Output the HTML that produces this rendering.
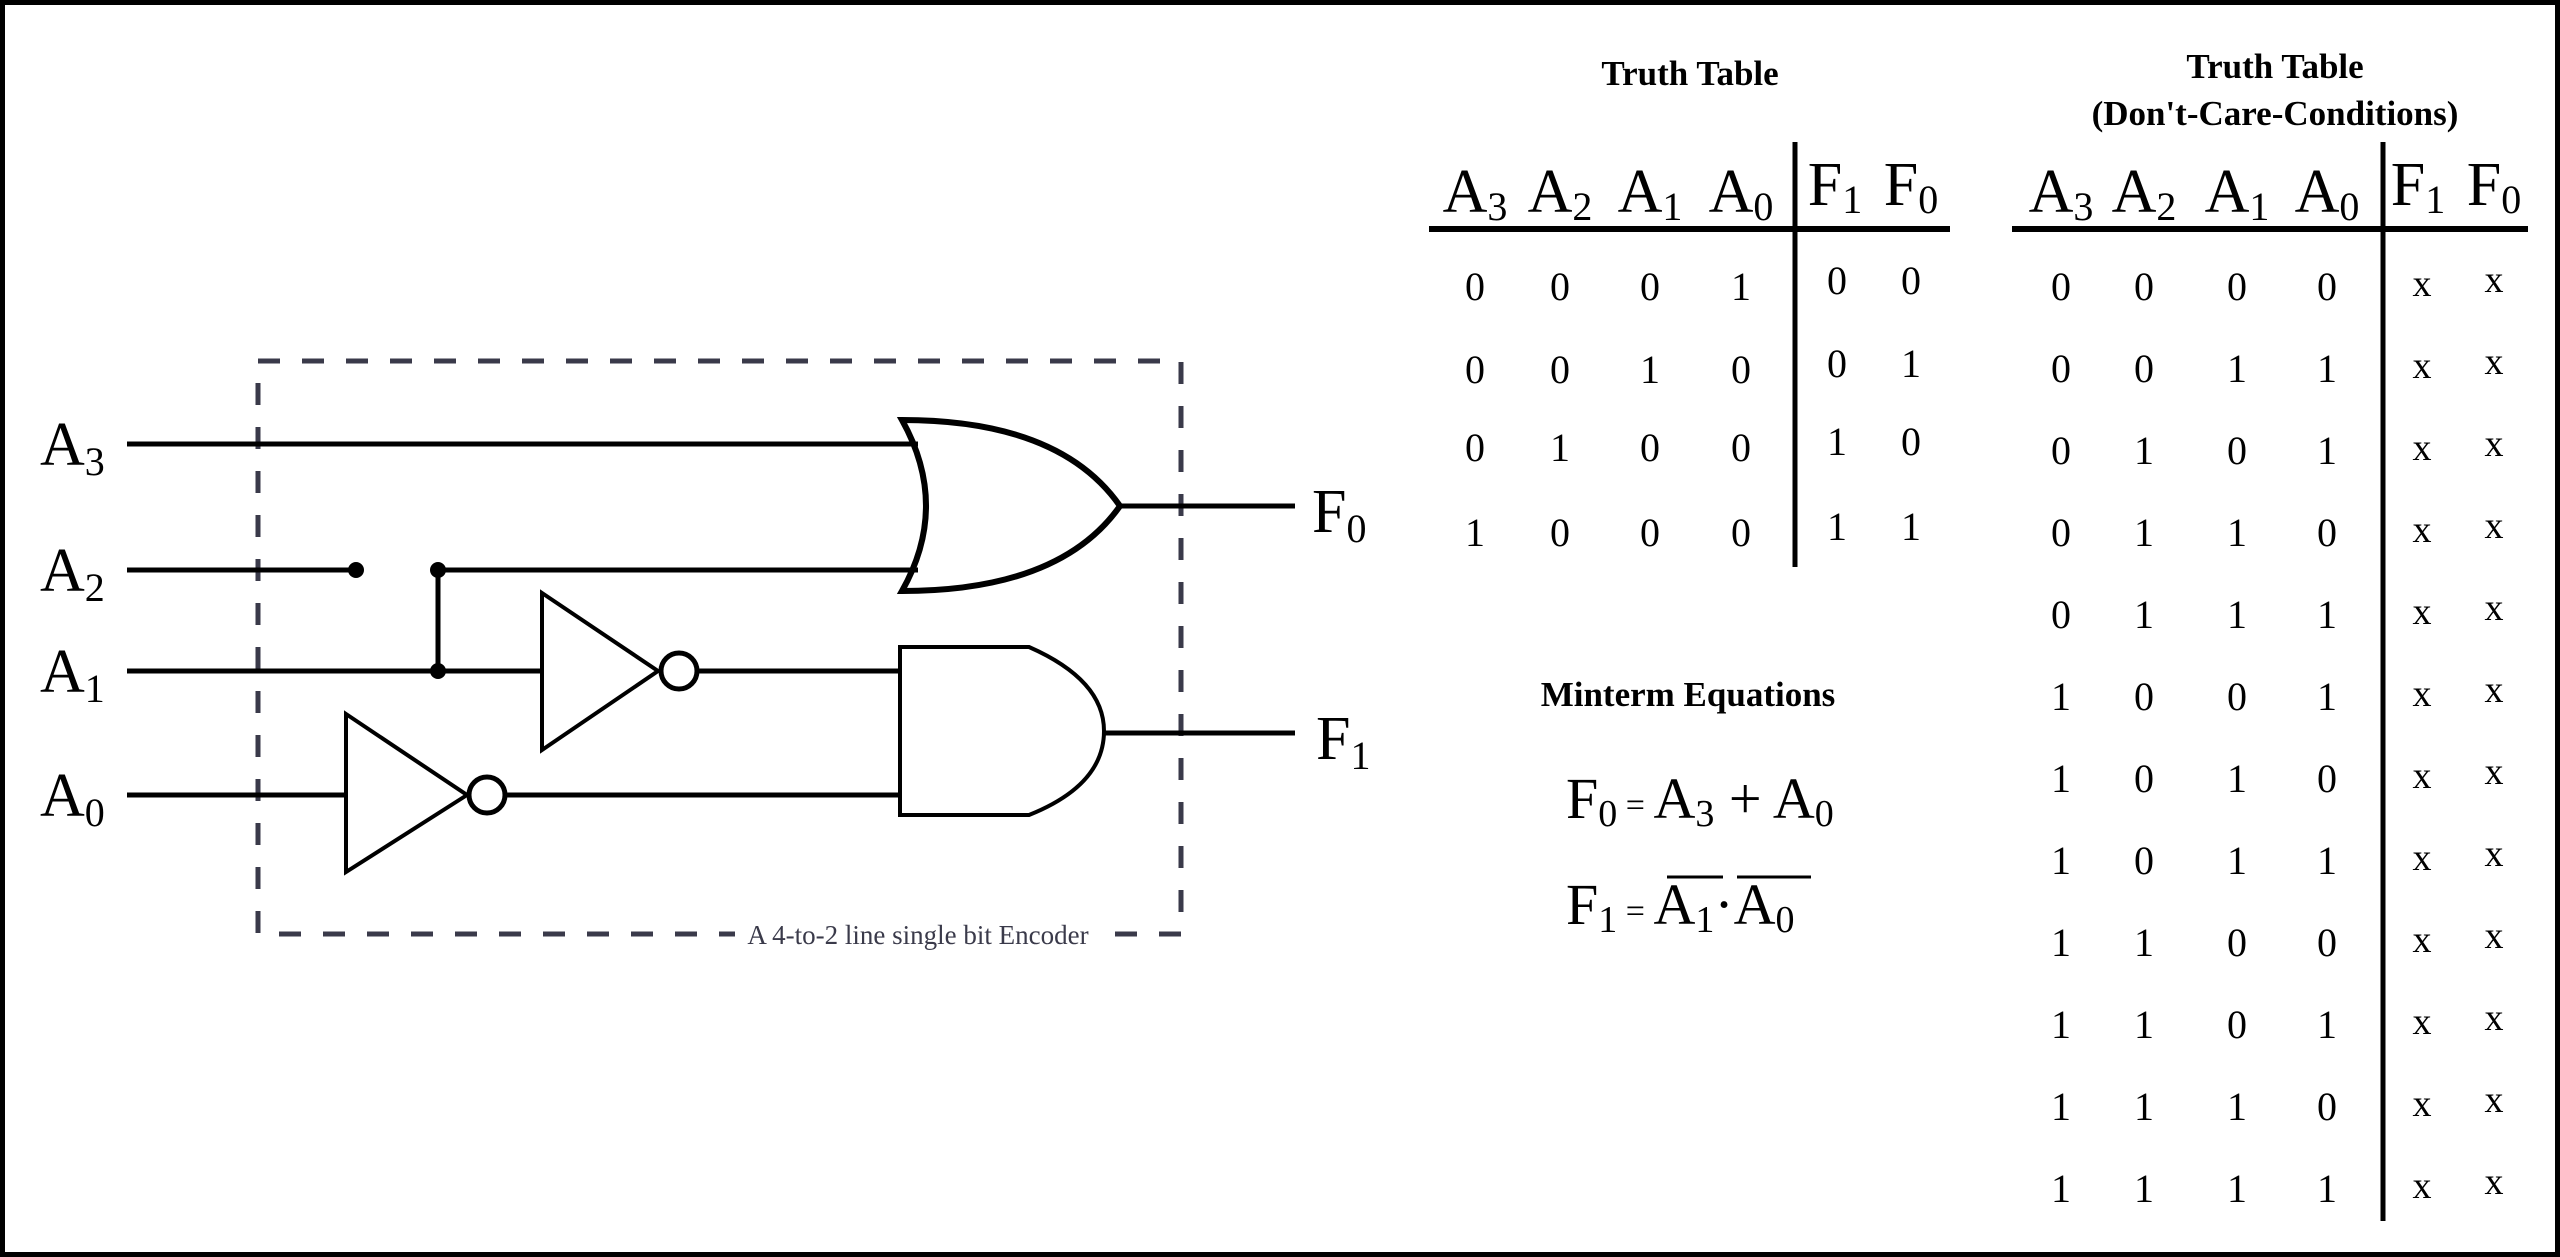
<!DOCTYPE html>
<html><head><meta charset="utf-8"><style>
html,body{margin:0;padding:0;background:#fff;}
svg{display:block;}
text{font-family:"Liberation Serif",serif;fill:#000;}
</style></head><body>
<svg width="2560" height="1257" viewBox="0 0 2560 1257" xmlns="http://www.w3.org/2000/svg">
<rect x="2.5" y="2.5" width="2555" height="1252" fill="#fff" stroke="#000" stroke-width="5"/>
<!-- dashed box -->
<rect x="258" y="361" width="923" height="573" fill="none" stroke="#3a3a4a" stroke-width="5" stroke-dasharray="22,22"/>
<rect x="735" y="918" width="365" height="32" fill="#fff"/>
<text x="918" y="944" font-size="27" text-anchor="middle" style="fill:#3a3a4a">A 4-to-2 line single bit Encoder</text>

<g stroke="#000" stroke-width="5" fill="none">
<line x1="127" y1="444" x2="918" y2="444"/>
<line x1="127" y1="570" x2="356" y2="570"/>
<line x1="438" y1="570" x2="918" y2="570"/>
<line x1="438" y1="570" x2="438" y2="671"/>
<line x1="127" y1="671" x2="542" y2="671"/>
<line x1="127" y1="795" x2="346" y2="795"/>
<line x1="697" y1="671" x2="900" y2="671"/>
<line x1="505" y1="795" x2="900" y2="795"/>
<line x1="1120" y1="506" x2="1295" y2="506"/>
<line x1="1104" y1="733" x2="1295" y2="733"/>
<path d="M902 420 Q1060 420 1120 506 Q1060 591 902 591 Q950 506 902 420 Z" stroke-width="6"/>
<path d="M542 593 L658 671 L542 750 Z" stroke-width="4"/>
<circle cx="679" cy="671" r="18" stroke-width="5"/>
<path d="M346 714 L467 795 L346 872 Z" stroke-width="4"/>
<circle cx="487" cy="795" r="18" stroke-width="5"/>
<path d="M900 647 L1029 647 Q1104 680 1104 731 Q1104 785 1029 815 L900 815 Z" stroke-width="4"/>
</g>
<circle cx="356" cy="570" r="8"/>
<circle cx="438" cy="570" r="8"/>
<circle cx="438" cy="671" r="8"/>

<g font-size="62">
<text x="40" y="465">A<tspan font-size="40" dy="10">3</tspan></text>
<text x="40" y="591">A<tspan font-size="40" dy="10">2</tspan></text>
<text x="40" y="692">A<tspan font-size="40" dy="10">1</tspan></text>
<text x="40" y="816">A<tspan font-size="40" dy="10">0</tspan></text>
<text x="1312" y="532">F<tspan font-size="40" dy="10">0</tspan></text>
<text x="1316" y="759">F<tspan font-size="40" dy="10">1</tspan></text>
</g>

<text x="1690" y="85" font-size="35" font-weight="bold" text-anchor="middle">Truth Table</text>
<g font-size="62" text-anchor="middle">
<text x="1475" y="212">A<tspan font-size="40" dy="8">3</tspan></text>
<text x="1560" y="212">A<tspan font-size="40" dy="8">2</tspan></text>
<text x="1650" y="212">A<tspan font-size="40" dy="8">1</tspan></text>
<text x="1741" y="212">A<tspan font-size="40" dy="8">0</tspan></text>
<text x="1835" y="205">F<tspan font-size="40" dy="8">1</tspan></text>
<text x="1911" y="205">F<tspan font-size="40" dy="8">0</tspan></text>
</g>
<line x1="1429" y1="229" x2="1950" y2="229" stroke="#000" stroke-width="6"/>
<line x1="1795" y1="142" x2="1795" y2="567" stroke="#000" stroke-width="5"/>
<g font-size="40" text-anchor="middle">
<text x="1475" y="300">0</text><text x="1560" y="300">0</text><text x="1650" y="300">0</text><text x="1741" y="300">1</text><text x="1837" y="294">0</text><text x="1911" y="294">0</text>
<text x="1475" y="383">0</text><text x="1560" y="383">0</text><text x="1650" y="383">1</text><text x="1741" y="383">0</text><text x="1837" y="377">0</text><text x="1911" y="377">1</text>
<text x="1475" y="461">0</text><text x="1560" y="461">1</text><text x="1650" y="461">0</text><text x="1741" y="461">0</text><text x="1837" y="455">1</text><text x="1911" y="455">0</text>
<text x="1475" y="546">1</text><text x="1560" y="546">0</text><text x="1650" y="546">0</text><text x="1741" y="546">0</text><text x="1837" y="540">1</text><text x="1911" y="540">1</text>
</g>

<text x="1688" y="706" font-size="35" font-weight="bold" text-anchor="middle">Minterm Equations</text>
<g font-size="58">
<text x="1566" y="818">F<tspan font-size="38" dy="8">0</tspan><tspan font-size="34" dy="-10"> = </tspan><tspan dy="2">A</tspan><tspan font-size="38" dy="8">3</tspan><tspan dy="-8"> + A</tspan><tspan font-size="38" dy="8">0</tspan></text>
<text x="1566" y="924">F<tspan font-size="38" dy="8">1</tspan><tspan font-size="34" dy="-10"> = </tspan><tspan dy="2">A</tspan><tspan font-size="38" dy="8">1</tspan><tspan dy="-8">·A</tspan><tspan font-size="38" dy="8">0</tspan></text>
</g>
<line x1="1667" y1="877" x2="1723" y2="877" stroke="#000" stroke-width="3"/>
<line x1="1737" y1="877" x2="1811" y2="877" stroke="#000" stroke-width="3"/>

<text x="2275" y="78" font-size="35" font-weight="bold" text-anchor="middle">Truth Table</text>
<text x="2275" y="125" font-size="35" font-weight="bold" text-anchor="middle">(Don't-Care-Conditions)</text>
<g font-size="62" text-anchor="middle">
<text x="2061" y="212">A<tspan font-size="40" dy="8">3</tspan></text>
<text x="2144" y="212">A<tspan font-size="40" dy="8">2</tspan></text>
<text x="2237" y="212">A<tspan font-size="40" dy="8">1</tspan></text>
<text x="2327" y="212">A<tspan font-size="40" dy="8">0</tspan></text>
<text x="2418" y="205">F<tspan font-size="40" dy="8">1</tspan></text>
<text x="2494" y="205">F<tspan font-size="40" dy="8">0</tspan></text>
</g>
<line x1="2012" y1="229" x2="2528" y2="229" stroke="#000" stroke-width="6"/>
<line x1="2383" y1="142" x2="2383" y2="1221" stroke="#000" stroke-width="5"/>
<g font-size="40" text-anchor="middle">
<text x="2061" y="300">0</text><text x="2144" y="300">0</text><text x="2237" y="300">0</text><text x="2327" y="300">0</text>
<text x="2061" y="382">0</text><text x="2144" y="382">0</text><text x="2237" y="382">1</text><text x="2327" y="382">1</text>
<text x="2061" y="464">0</text><text x="2144" y="464">1</text><text x="2237" y="464">0</text><text x="2327" y="464">1</text>
<text x="2061" y="546">0</text><text x="2144" y="546">1</text><text x="2237" y="546">1</text><text x="2327" y="546">0</text>
<text x="2061" y="628">0</text><text x="2144" y="628">1</text><text x="2237" y="628">1</text><text x="2327" y="628">1</text>
<text x="2061" y="710">1</text><text x="2144" y="710">0</text><text x="2237" y="710">0</text><text x="2327" y="710">1</text>
<text x="2061" y="792">1</text><text x="2144" y="792">0</text><text x="2237" y="792">1</text><text x="2327" y="792">0</text>
<text x="2061" y="874">1</text><text x="2144" y="874">0</text><text x="2237" y="874">1</text><text x="2327" y="874">1</text>
<text x="2061" y="956">1</text><text x="2144" y="956">1</text><text x="2237" y="956">0</text><text x="2327" y="956">0</text>
<text x="2061" y="1038">1</text><text x="2144" y="1038">1</text><text x="2237" y="1038">0</text><text x="2327" y="1038">1</text>
<text x="2061" y="1120">1</text><text x="2144" y="1120">1</text><text x="2237" y="1120">1</text><text x="2327" y="1120">0</text>
<text x="2061" y="1202">1</text><text x="2144" y="1202">1</text><text x="2237" y="1202">1</text><text x="2327" y="1202">1</text>
</g>
<g font-size="38" text-anchor="middle">
<text x="2422" y="296">x</text><text x="2494" y="292">x</text>
<text x="2422" y="378">x</text><text x="2494" y="374">x</text>
<text x="2422" y="460">x</text><text x="2494" y="456">x</text>
<text x="2422" y="542">x</text><text x="2494" y="538">x</text>
<text x="2422" y="624">x</text><text x="2494" y="620">x</text>
<text x="2422" y="706">x</text><text x="2494" y="702">x</text>
<text x="2422" y="788">x</text><text x="2494" y="784">x</text>
<text x="2422" y="870">x</text><text x="2494" y="866">x</text>
<text x="2422" y="952">x</text><text x="2494" y="948">x</text>
<text x="2422" y="1034">x</text><text x="2494" y="1030">x</text>
<text x="2422" y="1116">x</text><text x="2494" y="1112">x</text>
<text x="2422" y="1198">x</text><text x="2494" y="1194">x</text>
</g>
</svg>
</body></html>
